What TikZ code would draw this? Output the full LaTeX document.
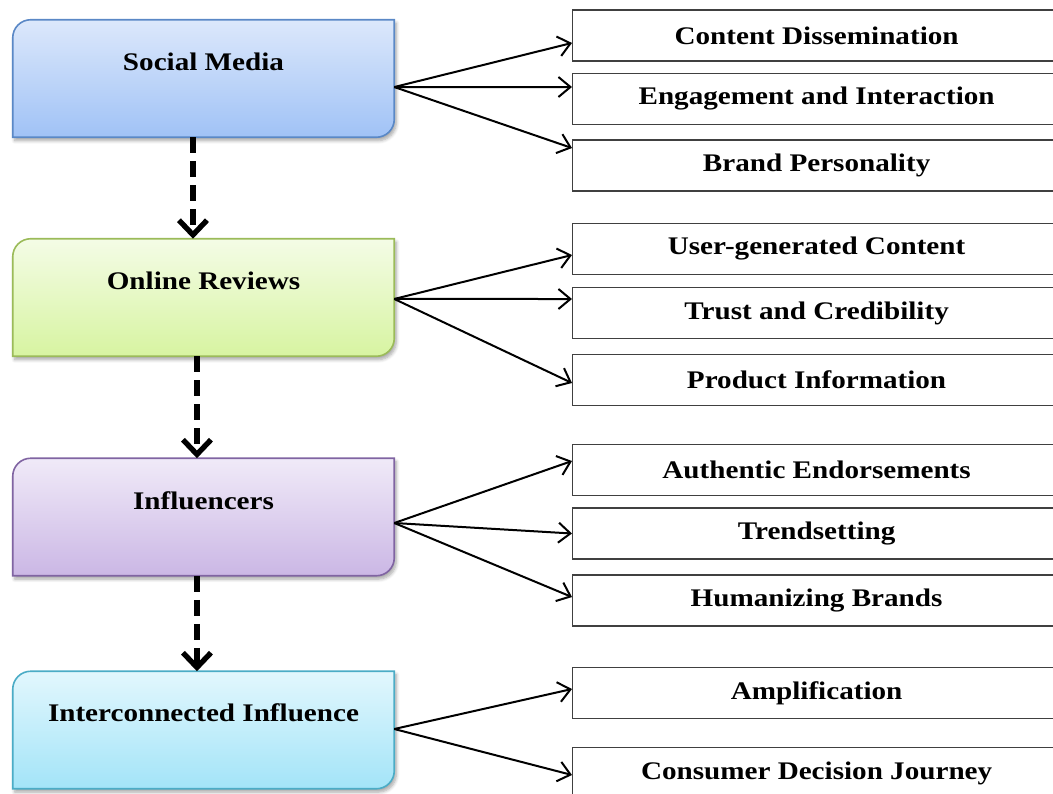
\documentclass[tikz,border=0pt]{standalone}
\usepackage{fontspec}
\setmainfont{Liberation Serif}[FakeStretch=1.15]
\usetikzlibrary{arrows.meta,shadows.blur}

% stage colours: gradient top, gradient bottom, outline
\definecolor{smTop}{HTML}{DCE8FB}\definecolor{smBot}{HTML}{A0C2F6}\definecolor{smLine}{HTML}{5A88C6}
\definecolor{orTop}{HTML}{F4FCE6}\definecolor{orBot}{HTML}{D7F4A1}\definecolor{orLine}{HTML}{9BBB59}
\definecolor{inTop}{HTML}{F0EAF8}\definecolor{inBot}{HTML}{CBB7E5}\definecolor{inLine}{HTML}{8064A2}
\definecolor{icTop}{HTML}{E2F7FD}\definecolor{icBot}{HTML}{A3E4F8}\definecolor{icLine}{HTML}{4BACC6}

\tikzset{
  x=0.75pt, y=-0.75pt,
  stage/.style={minimum width=285.75pt, minimum height=87.75pt, inner sep=0pt, draw=none},
  stagelabel/.style={font=\fontsize{19}{22}\selectfont\bfseries, inner sep=0pt},
  item/.style={draw=black!75, line width=0.9pt, fill=white, minimum width=366pt,
    minimum height=38.25pt, anchor=west, inner sep=0pt, font=\fontsize{19}{22}\selectfont\bfseries},
  fan/.style={line width=1.5pt, -{Straight Barb[length=9pt,width=15pt]}},
  flow/.style={line width=4.5pt, dash pattern=on 12pt off 6pt,
    -{Straight Barb[length=11pt,width=21pt,line width=4pt]}}
}

% rounded top-left and bottom-right corners, shaded fill, soft shadow
\newcommand\stageshape[4]{%
  \path[blur shadow={shadow xshift=1.5pt, shadow yshift=-2.5pt, shadow blur steps=6,
        shadow blur radius=2.5pt, shadow opacity=35},
        top color=#2, bottom color=#3, draw=#4, line width=1.2pt]
    (#1.south west) -- ([yshift=-13.5pt]#1.north west)
    to[out=90,in=180] ([xshift=13.5pt]#1.north west) -- (#1.north east)
    -- ([yshift=13.5pt]#1.south east)
    to[out=-90,in=0] ([xshift=-13.5pt]#1.south east) -- cycle;}

\begin{document}
\begin{tikzpicture}
\useasboundingbox (0,0) rectangle (1053,793);
\clip (0,0) rectangle (1053,793);

% stages
\node[stage] (sm)  at (203.5,78.5) {};
\node[stage] (or)  at (203.5,297.5) {};
\node[stage] (inf) at (203.5,517) {};
\node[stage] (ic)  at (203.5,730) {};
\stageshape{sm}{smTop}{smBot}{smLine}
\stageshape{or}{orTop}{orBot}{orLine}
\stageshape{inf}{inTop}{inBot}{inLine}
\stageshape{ic}{icTop}{icBot}{icLine}
\node[stagelabel] (smt)  at (203.5,62)  {Social Media};
\node[stagelabel] (ort)  at (203.5,281) {Online Reviews};
\node[stagelabel] (inft) at (203.5,501) {Influencers};
\node[stagelabel] (ict)  at (203.5,713) {Interconnected Influence};

% aspects
\node[item] (cd)  at (572,35.5)  {Content Dissemination};
\node[item] (ei)  at (572,99)    {Engagement and Interaction};
\node[item] (bp)  at (572,165.5) {Brand Personality};
\node[item] (ugc) at (572,249)   {User-generated Content};
\node[item] (tc)  at (572,313)   {Trust and Credibility};
\node[item] (pi)  at (572,380)   {Product Information};
\node[item] (ae)  at (572,470)   {Authentic Endorsements};
\node[item] (ts)  at (572,533.5) {Trendsetting};
\node[item] (hb)  at (572,600.5) {Humanizing Brands};
\node[item] (am)  at (572,693)   {Amplification};
\node[item] (cdj) at (572,773)   {Consumer Decision Journey};

% fans from each stage
\draw[fan] ([yshift=-6.4pt]sm.east) -- ([yshift=-5.6pt]cd.west);
\draw[fan] ([yshift=-6.4pt]sm.east) -- ([yshift=9pt]ei.west);
\draw[fan] ([yshift=-6.4pt]sm.east) -- ([yshift=13.1pt]bp.west);
\draw[fan] ([yshift=-1.1pt]or.east) -- ([yshift=-4.5pt]ugc.west);
\draw[fan] ([yshift=-1.1pt]or.east) -- ([yshift=10.5pt]tc.west);
\draw[fan] ([yshift=-1.1pt]or.east) -- ([yshift=-2.25pt]pi.west);
\draw[fan] ([yshift=-4.5pt]inf.east) -- ([yshift=6.75pt]ae.west);
\draw[fan] ([yshift=-4.5pt]inf.east) -- (ts.west);
\draw[fan] ([yshift=-4.5pt]inf.east) -- ([yshift=2.6pt]hb.west);
\draw[fan] ([yshift=0.75pt]ic.east) -- ([yshift=3pt]am.west);
\draw[fan] ([yshift=0.75pt]ic.east) -- ([yshift=-1.5pt]cdj.west);

% flow between stages
\draw[flow] ([xshift=-7.9pt]sm.south) -- ([xshift=-7.9pt]or.north);
\draw[flow] ([xshift=-4.9pt]or.south) -- ([xshift=-4.9pt]inf.north);
\draw[flow] ([xshift=-4.9pt]inf.south) -- ([xshift=-4.9pt]ic.north);
\end{tikzpicture}
\end{document}
